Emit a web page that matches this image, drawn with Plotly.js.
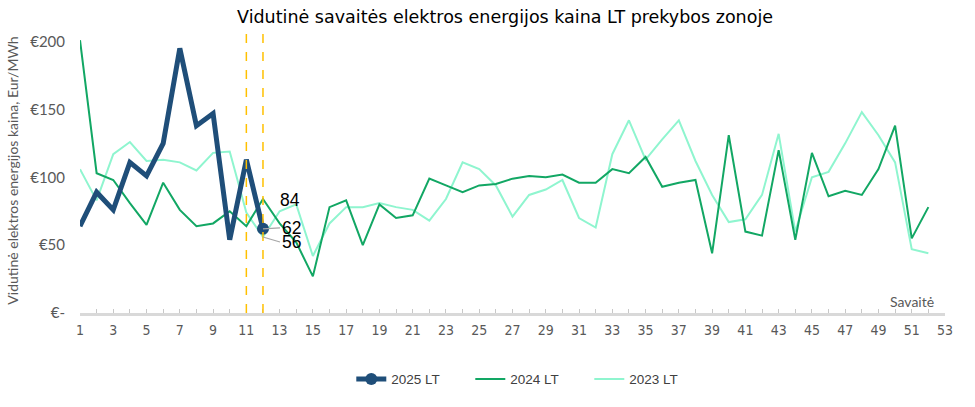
<!DOCTYPE html>
<html>
<head>
<meta charset="utf-8">
<script src="https://cdn.plot.ly/plotly-3.0.1.min.js"></script>
<style>html,body{margin:0;padding:0;background:#fff;}#chart{width:975px;height:407px;}</style>
</head>
<body>
<div id="chart"></div>
<script>
// Weeks
const weeks = Array.from({length: 52}, (_, i) => i + 1);
// 2025 LT (weeks 1-12)
const y2025 = [64, 89, 76, 111, 101, 125, 195, 138, 147, 54, 113, 62];
// 2024 LT
const y2024 = [201, 103, 98, 81, 65, 96, 76, 64, 66, 75, 64, 84,
  66, 52, 27, 78, 83, 50, 80, 70, 72, 99, 94, 89, 94, 95, 99, 101, 100, 102,
  96, 96, 106, 103, 115, 93, 96, 98, 44, 131, 60, 57, 120, 54, 118, 86,
  90, 87, 106, 138, 55, 78];
// 2023 LT
const y2023 = [106, 83, 117, 126, 112, 113, 111, 105, 118, 119, 74, 56,
  75, 80, 42, 66, 78, 78, 81, 78, 76, 68, 84, 111, 106, 94, 71, 87, 91, 98,
  70, 63, 117, 142, 113, 128, 142, 112, 87, 67, 69, 87, 132, 60, 100, 104,
  125, 148, 131, 111, 47, 44];
const seriesNames = ["2025 LT", "2024 LT", "2023 LT"];
const yTickVals = [0, 50, 100, 150, 200];
const yTickText = ["€-", "€50", "€100", "€150", "€200"];
const xTickVals = Array.from({length: 53}, (_, i) => i + 1);
const xTickText = xTickVals.map(v => (v % 2 === 1 ? String(v) : ""));
const markedWeeks = [11, 12];
const labelWeek = 12;

const navy = "#1f4e79", green = "#12a764", mint = "#8ff5cf";
const w2025 = weeks.slice(0, y2025.length);
const lastIdx = y2025.length - 1;

const traces = [
  {x: weeks, y: y2023, mode: "lines", name: seriesNames[2], line: {color: mint, width: 2}, legendrank: 3},
  {x: weeks, y: y2024, mode: "lines", name: seriesNames[1], line: {color: green, width: 2}, legendrank: 2},
  {x: w2025, y: y2025, mode: "lines", name: seriesNames[0], showlegend: false, legendgroup: "g25",
   line: {color: navy, width: 5}},
  {x: [w2025[lastIdx]], y: [y2025[lastIdx]], mode: "lines+markers", name: seriesNames[0], legendgroup: "g25",
   line: {color: navy, width: 5}, marker: {color: navy, size: 12}, legendrank: 1}
];

const li = labelWeek - 1;
const lblFont = {family: "Liberation Sans, Arial", size: 17.5, color: "#000"};
const annotations = [
  {x: labelWeek, y: y2024[li], xref: "x", yref: "y", text: String(y2024[li]), showarrow: false,
   xanchor: "left", xshift: 15, yshift: -1, font: lblFont},
  {x: labelWeek, y: y2025[lastIdx], xref: "x", yref: "y", text: String(y2025[lastIdx]), showarrow: true,
   arrowhead: 0, arrowwidth: 1.2, arrowcolor: "#a6a6a6", ax: 17, ay: -1, xanchor: "left", font: lblFont},
  {x: labelWeek, y: y2023[li], xref: "x", yref: "y", text: String(y2023[li]), showarrow: true,
   arrowhead: 0, arrowwidth: 1.2, arrowcolor: "#a6a6a6", ax: 17, ay: 5, xanchor: "left", font: lblFont},
  {x: 0.99, y: 0, xref: "paper", yref: "paper", text: "Savaitė", showarrow: false,
   xanchor: "right", yanchor: "bottom", yshift: 1, font: {family: "Lato, Open Sans", size: 14, color: "#595959"}}
];

const shapes = markedWeeks.map(w => ({
  type: "line", xref: "x", yref: "paper", x0: w, x1: w, y0: 0, y1: 1,
  line: {color: "#ffc000", width: 1.5, dash: "dash"}
}));

const layout = {
  width: 975, height: 407,
  margin: {l: 80, r: 30, t: 28, b: 94},
  paper_bgcolor: "#fff", plot_bgcolor: "#fff",
  title: {text: "Vidutinė savaitės elektros energijos kaina LT prekybos zonoje",
          x: 0.518, xref: "container", xanchor: "center", y: 0.958, yref: "container", yanchor: "middle",
          font: {family: "DejaVu Sans", size: 17.5, color: "#000"}},
  xaxis: {range: [1, 53], tickvals: xTickVals, ticktext: xTickText, showgrid: false, zeroline: false,
          showline: true, linecolor: "#d9d9d9", linewidth: 2.5, ticks: "inside", ticklen: 4, tickwidth: 1,
          tickcolor: "#c8c8c8", ticklabelstandoff: 3,
          tickfont: {family: "Liberation Sans Narrow, DejaVu Sans Condensed", size: 14, color: "#595959"}},
  yaxis: {range: [0, 210], tickvals: yTickVals, ticktext: yTickText, showgrid: false, zeroline: false,
          showline: false, ticks: "", ticklabelstandoff: 14,
          tickfont: {family: "Lato, Open Sans", size: 15, color: "#595959"},
          title: {text: "Vidutinė elektros energijos kaina, Eur/MWh", standoff: 8,
                  font: {family: "Lato, Open Sans", size: 14, color: "#595959"}}},
  legend: {orientation: "h", x: 0.52, xanchor: "center", y: -0.232, yanchor: "middle", entrywidth: 74,
           traceorder: "normal", font: {family: "Liberation Sans, Arial", size: 13.5, color: "#404040"}},
  annotations: annotations, shapes: shapes, showlegend: true
};

Plotly.newPlot("chart", traces, layout, {displayModeBar: false, staticPlot: true});
</script>
</body>
</html>
